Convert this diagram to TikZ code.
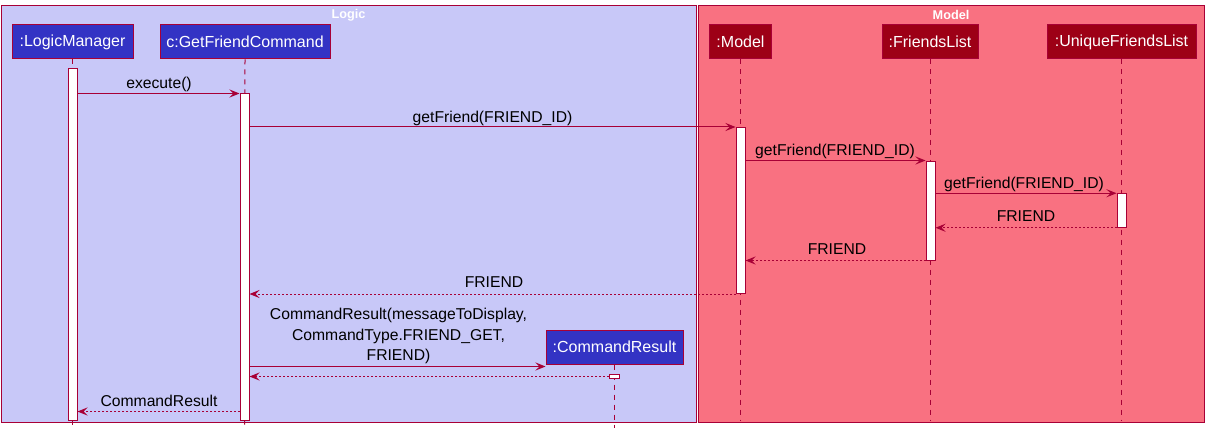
\documentclass[tikz,border=0pt]{standalone}
\usepackage{fontspec}
\setmainfont{Liberation Sans}
\usetikzlibrary{arrows.meta}
\definecolor{bord}{HTML}{A80036}
\definecolor{logicbg}{HTML}{C8C8F8}
\definecolor{modelbg}{HTML}{F97181}
\definecolor{partblue}{HTML}{3333C4}
\definecolor{partred}{HTML}{9D0016}
\tikzset{
  frame/.style={draw=bord, line width=1pt},
  frametitle/.style={text=white, font=\bfseries\fontsize{12.7}{15}\selectfont, inner sep=0pt},
  partbox/.style={draw=bord, line width=1pt, text=white, font=\fontsize{16}{19}\selectfont, minimum height=34pt, inner sep=0pt},
  pblue/.style={partbox, fill=partblue},
  pred/.style={partbox, fill=partred},
  lifeline/.style={draw=bord, line width=1pt, dash pattern=on 5pt off 5pt},
  act/.style={draw=bord, fill=white, line width=1pt, minimum width=9pt, inner sep=0pt},
  msg/.style={draw=bord, line width=1pt, -{Stealth[length=10pt, width=8pt, inset=4pt]}},
  ret/.style={msg, dash pattern=on 2pt off 2pt},
  lbl/.style={font=\fontsize{15.7}{20.3}\selectfont, inner sep=0pt, anchor=base, align=center},
}
\begin{document}
\begin{tikzpicture}[x=1pt, y=-1pt]
\useasboundingbox (0,0) rectangle (1209,433);
\fill[white] (0,0) rectangle (1209,433);
% frames
\draw[frame, fill=logicbg] (1,6) rectangle (696,422);
\draw[frame, fill=modelbg] (698,6) rectangle (1204,422);
\node[frametitle] (tlogic) at (348.5,15) {Logic};
\node[frametitle] (tmodel) at (951,15) {Model};
% participants
\node[pblue, minimum width=121pt] (lm) at (72.5,42) {:LogicManager};
\node[pblue, minimum width=170pt] (gfc) at (245,42) {c:GetFriendCommand};
\node[pred, minimum width=62pt] (m) at (740.5,42) {:Model};
\node[pred, minimum width=96pt] (fl) at (930,42) {:FriendsList};
\node[pred, minimum width=149pt] (ufl) at (1121.5,42) {:UniqueFriendsList};
\node[pblue, minimum width=137pt] (cr) at (614.5,347) {:CommandResult};
% lifelines
\coordinate (lmE) at (72.5,427);
\coordinate (gfcE) at (244.5,427);
\coordinate (mE) at (740.5,421);
\coordinate (flE) at (930,421);
\coordinate (uflE) at (1121.5,421);
\coordinate (crE) at (614.5,428);
\draw[lifeline] (lm.south) -- (lmE);
\draw[lifeline] (gfc.south) -- (gfcE);
\draw[lifeline] (m.south) -- (mE);
\draw[lifeline] (fl.south) -- (flE);
\draw[lifeline] (ufl.south) -- (uflE);
\draw[lifeline] (cr.south) -- (crE);
% activations
\node[act, minimum height=351pt] (alm) at (72.5,244.5) {};
\node[act, minimum height=326pt] (agfc) at (244.5,257) {};
\node[act, minimum height=166pt] (am) at (740.5,210.5) {};
\node[act, minimum height=99pt] (afl) at (930.5,210.5) {};
\node[act, minimum height=33.5pt] (aufl) at (1121.5,210.5) {};
\node[act, minimum width=10pt, minimum height=3.5pt] (acr) at (614.5,376.5) {};
% messages
\draw[msg] (alm.east |- agfc.north) -- (agfc.north west);
\node[lbl] (l1) at (159,88.5) {execute()};
\draw[msg] (agfc.east |- am.north) -- (am.north west);
\node[lbl] (l2) at (492.5,122) {getFriend(FRIEND\_ID)};
\draw[msg] (am.east |- afl.north) -- (afl.north west);
\node[lbl] (l3) at (835,155.5) {getFriend(FRIEND\_ID)};
\draw[msg] (afl.east |- aufl.north) -- (aufl.north west);
\node[lbl] (l4) at (1024,188.5) {getFriend(FRIEND\_ID)};
\draw[ret] (aufl.south west) -- (afl.east |- aufl.south);
\node[lbl] (l5) at (1026,221.5) {FRIEND};
\draw[ret] (afl.south west) -- (am.east |- afl.south);
\node[lbl] (l6) at (837,254.5) {FRIEND};
\draw[ret] (am.south west) -- (agfc.east |- am.south);
\node[lbl] (l7) at (494,287.5) {FRIEND};
\coordinate (crin) at (cr.west |- 0,366.5);
\draw[msg] (agfc.east |- crin) -- (crin);
\node[lbl] (l8) at (398.5,360.5) {CommandResult(messageToDisplay,\\CommandType.FRIEND\_GET,\\FRIEND)};
\draw[ret] (acr.west) -- (agfc.east |- acr.west);
\coordinate (r9) at (240,411.5);
\draw[ret] (r9) -- (alm.east |- r9);
\node[lbl] (l9) at (159,406) {CommandResult};
\end{tikzpicture}
\end{document}
